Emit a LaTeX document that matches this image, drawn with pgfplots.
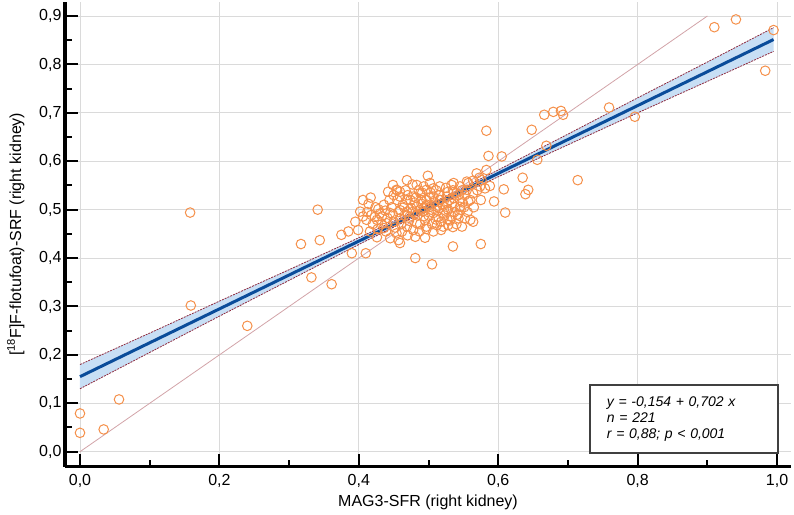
\documentclass[border=0pt]{standalone}
\usepackage{fontspec}
\setmainfont{Liberation Sans}
\usepackage{pgfplots}
\usepackage{pgfplotstable}
\pgfplotsset{compat=1.18}

\definecolor{ptorange}{HTML}{F5904A}
\definecolor{regblue}{HTML}{0A4C9A}
\definecolor{bandfill}{HTML}{C8DFF5}
\definecolor{bandedge}{HTML}{8E2A3E}
\definecolor{idline}{HTML}{D2A3A8}
\definecolor{gridgray}{HTML}{DADADA}

% MAG3-SFR (x) versus PET-SRF (y), right kidney
\pgfplotstableread{
x y
0.000 0.079
0.000 0.039
0.034 0.046
0.056 0.108
0.159 0.302
0.158 0.494
0.240 0.260
0.332 0.360
0.361 0.346
0.317 0.429
0.341 0.500
0.344 0.437
0.910 0.877
0.941 0.893
0.995 0.871
0.983 0.787
0.796 0.692
0.759 0.711
0.666 0.696
0.679 0.702
0.690 0.704
0.693 0.696
0.648 0.665
0.583 0.663
0.669 0.632
0.714 0.561
0.586 0.611
0.605 0.610
0.656 0.603
0.569 0.575
0.583 0.582
0.499 0.570
0.469 0.561
0.449 0.551
0.454 0.541
0.477 0.552
0.533 0.551
0.528 0.537
0.555 0.558
0.564 0.560
0.576 0.561
0.608 0.542
0.635 0.566
0.643 0.541
0.639 0.532
0.594 0.517
0.610 0.494
0.564 0.534
0.557 0.517
0.545 0.506
0.540 0.534
0.560 0.479
0.564 0.475
0.535 0.464
0.535 0.424
0.575 0.429
0.481 0.400
0.505 0.387
0.406 0.520
0.414 0.512
0.428 0.501
0.438 0.498
0.445 0.493
0.459 0.499
0.469 0.496
0.483 0.506
0.497 0.520
0.507 0.527
0.516 0.520
0.526 0.513
0.375 0.448
0.385 0.455
0.399 0.458
0.395 0.475
0.411 0.479
0.426 0.479
0.445 0.441
0.457 0.437
0.459 0.431
0.481 0.444
0.495 0.442
0.390 0.410
0.410 0.410
0.416 0.455
0.426 0.443
0.454 0.451
0.469 0.465
0.483 0.472
0.497 0.465
0.512 0.468
0.521 0.465
0.528 0.468
0.493 0.486
0.507 0.493
0.521 0.493
0.533 0.486
0.543 0.482
0.552 0.482
0.402 0.496
0.406 0.486
0.418 0.489
0.433 0.486
0.440 0.472
0.450 0.475
0.459 0.482
0.473 0.486
0.481 0.493
0.488 0.499
0.502 0.506
0.512 0.506
0.459 0.527
0.469 0.520
0.478 0.527
0.488 0.534
0.497 0.541
0.507 0.544
0.516 0.548
0.526 0.527
0.536 0.524
0.545 0.520
0.442 0.537
0.450 0.530
0.459 0.537
0.483 0.551
0.493 0.548
0.502 0.555
0.536 0.555
0.545 0.548
0.555 0.541
0.557 0.555
0.574 0.548
0.581 0.544
0.588 0.549
0.430 0.492
0.436 0.510
0.441 0.483
0.447 0.505
0.452 0.463
0.455 0.520
0.461 0.470
0.463 0.510
0.466 0.489
0.470 0.530
0.472 0.477
0.475 0.503
0.478 0.458
0.480 0.515
0.484 0.488
0.486 0.540
0.488 0.470
0.490 0.520
0.492 0.497
0.495 0.478
0.498 0.510
0.500 0.488
0.503 0.535
0.505 0.470
0.508 0.515
0.510 0.480
0.513 0.498
0.515 0.530
0.518 0.475
0.520 0.510
0.523 0.488
0.525 0.545
0.528 0.500
0.531 0.478
0.534 0.512
0.537 0.495
0.540 0.470
0.543 0.530
0.546 0.500
0.549 0.515
0.420 0.470
0.424 0.505
0.427 0.460
0.433 0.470
0.439 0.455
0.444 0.520
0.449 0.490
0.457 0.495
0.462 0.455
0.467 0.540
0.474 0.520
0.477 0.495
0.482 0.525
0.487 0.455
0.491 0.535
0.494 0.505
0.497 0.460
0.501 0.525
0.504 0.500
0.507 0.455
0.511 0.540
0.514 0.485
0.517 0.520
0.522 0.500
0.527 0.480
0.530 0.520
0.535 0.540
0.538 0.505
0.542 0.490
0.548 0.465
0.552 0.530
0.556 0.495
0.560 0.520
0.565 0.505
0.570 0.540
0.575 0.520
0.412 0.495
0.417 0.525
0.423 0.485
0.455 0.540
0.548 0.540
0.573 0.566
0.470 0.447
0.436 0.462
0.551 0.505
0.518 0.458
0.490 0.512
0.465 0.505
}\pts

\begin{document}
\begin{tikzpicture}
\begin{axis}[
  name=ax,
  scale only axis,
  width=726pt, height=464.7pt,
  xmin=-0.0215, xmax=1.020,
  ymin=-0.031, ymax=0.929,
  axis lines=left,
  axis line style={-, line width=3.5pt, black},
  tick align=inside,
  major tick length=13pt, minor tick length=7pt,
  tick style={line width=2pt, black},
  xtick={0,0.2,0.4,0.6,0.8,1.0},
  minor xtick={0.1,0.3,0.5,0.7,0.9},
  ytick={0,0.1,0.2,0.3,0.4,0.5,0.6,0.7,0.8,0.9},
  minor ytick={0.05,0.15,0.25,0.35,0.45,0.55,0.65,0.75,0.85},
  xmajorgrids, ymajorgrids,
  major grid style={gridgray, line width=0.8pt},
  ticklabel style={font=\fontsize{16}{19}\selectfont},
  xticklabel style={yshift=-4pt},
  xticklabel={\pgfmathprintnumber[assume math mode=true, use comma, fixed, fixed zerofill, precision=1]{\tick}},
  yticklabel={\pgfmathprintnumber[assume math mode=true, use comma, fixed, fixed zerofill, precision=1]{\tick}},
  xlabel={MAG3-SFR (right kidney)},
  ylabel={[\textsuperscript{18}F]F-flotufoat)-SRF (right kidney)},
  label style={font=\fontsize{16}{19}\selectfont},
  xlabel style={yshift=-1pt},
  ylabel style={yshift=8pt},
  clip=false,
]
% 95% confidence band of the regression line
\addplot[fill=bandfill, draw=none] coordinates {
  (0,0.180) (0.1,0.245) (0.2,0.311) (0.3,0.376) (0.4,0.442) (0.5,0.510)
  (0.6,0.582) (0.7,0.656) (0.8,0.731) (0.9,0.805) (0.995,0.876)
  (0.995,0.827) (0.9,0.765) (0.8,0.700) (0.7,0.634) (0.6,0.568)
  (0.5,0.500) (0.4,0.428) (0.3,0.354) (0.2,0.280) (0.1,0.205) (0,0.130)
} -- cycle;
\addplot[bandedge, line width=0.8pt, dash pattern=on 2pt off 1pt] coordinates {
  (0,0.180) (0.1,0.245) (0.2,0.311) (0.3,0.376) (0.4,0.442) (0.5,0.510)
  (0.6,0.582) (0.7,0.656) (0.8,0.731) (0.9,0.805) (0.995,0.876)};
\addplot[bandedge, line width=0.8pt, dash pattern=on 2pt off 1pt] coordinates {
  (0,0.130) (0.1,0.205) (0.2,0.280) (0.3,0.354) (0.4,0.428) (0.5,0.500)
  (0.6,0.568) (0.7,0.634) (0.8,0.700) (0.9,0.765) (0.995,0.827)};
% line of identity
\addplot[idline, line width=0.8pt] coordinates {(0,0) (0.9,0.9)};
% observations
\addplot[only marks, mark=o, mark size=4.8pt,
  mark options={draw=ptorange, line width=1pt}] table[x=x, y=y] {\pts};
% regression line
\addplot[regblue, line width=3pt] coordinates {(0,0.155) (0.995,0.8515)};
% statistics box
\node[draw=black!75, line width=1.3pt, fill=white, anchor=north west,
  minimum width=188pt, minimum height=68pt, text width=154pt,
  inner xsep=17pt, align=left,
  font=\fontsize{14}{16}\selectfont\itshape]
  at (axis cs:0.7307,0.139)
  {y = -0,154 + 0,702 x\\ n = 221\\ r = 0,88; p < 0,001};
\end{axis}
\pgfresetboundingbox
\path (ax.south west) ++(-65pt,-47.3pt) rectangle ++(794pt,514pt);
\end{tikzpicture}
\end{document}
